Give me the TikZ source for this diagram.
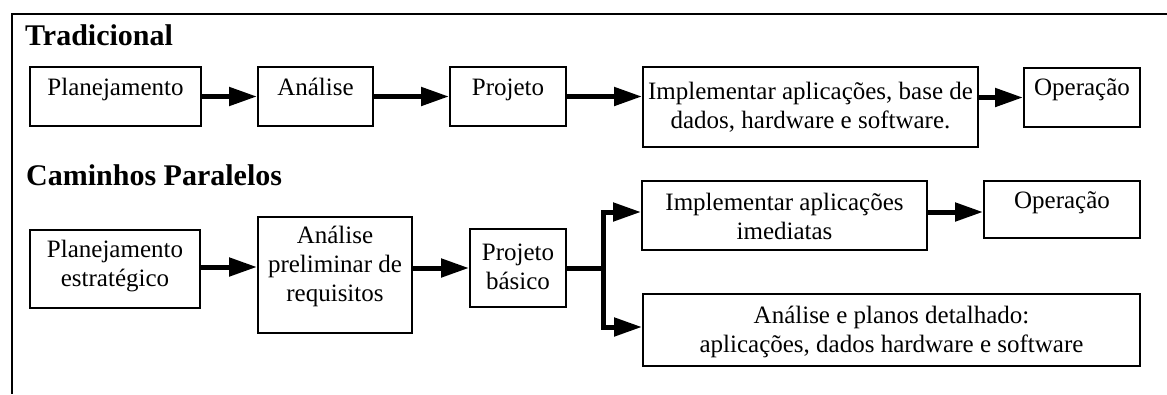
\documentclass[tikz,border=0pt]{standalone}
\usepackage{fontspec}
\setmainfont{Liberation Serif}
\usetikzlibrary{arrows.meta}
\tikzset{
  box/.style={draw, line width=2pt, rectangle, inner sep=0pt},
  txt/.style={inner sep=0pt, align=center, font=\fontsize{25}{29}\selectfont},
  ttl/.style={inner sep=0pt, anchor=base west, font=\fontsize{30}{34}\selectfont\bfseries},
  conn/.style={line width=5pt},
  arr/.style={line width=5pt, -{Triangle[length=28pt,width=18pt]}},
  frame/.style={line width=2pt}
}
\begin{document}
\begin{tikzpicture}[x=1pt,y=-1pt]
\useasboundingbox (0,0) rectangle (1167,394);
\draw[frame] (1167,14) -- (12,14) -- (12,394);

% titles
\node[ttl] (title1) at (25,45) {Tradicional};
\node[ttl] (title2) at (26,185) {Caminhos Paralelos};

% Tradicional row
\node[box, minimum width=171pt, minimum height=59pt] (T1) at (115.5,96.5) {};
\node[box, minimum width=115pt, minimum height=59pt] (T2) at (315.5,96.5) {};
\node[box, minimum width=116pt, minimum height=59pt] (T3) at (508,96.5) {};
\node[box, minimum width=335pt, minimum height=80pt] (T4) at (810.5,107) {};
\node[box, minimum width=116pt, minimum height=59pt] (T5) at (1082,97.5) {};

\node[txt, anchor=base] (tT1) at (115.5,95) {Planejamento};
\node[txt, anchor=base] (tT2) at (315.5,95) {Análise};
\node[txt, anchor=base] (tT3) at (508,95) {Projeto};
\node[txt] (tT4) at (810.5,107) {Implementar aplicações, base de\\dados, hardware e software.};
\node[txt, anchor=base] (tT5) at (1082,95) {Operação};

\draw[arr] (T1.east) -- (T2.west);
\draw[arr] (T2.east) -- (T3.west);
\draw[arr] (T3.east) -- (T3.east -| T4.west);
\draw[arr] (T5.west -| T4.east) -- (T5.west);

% Caminhos Paralelos row
\node[box, minimum width=170pt, minimum height=78pt] (P1) at (115,269) {};
\node[box, minimum width=154pt, minimum height=116pt] (P2) at (335,275) {};
\node[box, minimum width=96pt, minimum height=78pt] (P3) at (518,268) {};
\node[box, minimum width=285pt, minimum height=69pt] (P4) at (784.5,215.5) {};
\node[box, minimum width=156pt, minimum height=57pt] (P5) at (1062,209.5) {};
\node[box, minimum width=497pt, minimum height=72pt] (P6) at (891.5,330) {};

\node[txt] (tP1) at (115,266.5) {Planejamento\\estratégico};
\node[txt] (tP2) at (335,266) {Análise\\preliminar de\\requisitos};
\node[txt] (tP3) at (518,266.5) {Projeto\\básico};
\node[txt] (tP4) at (784.5,216) {Implementar aplicações\\imediatas};
\node[txt, anchor=base] (tP5) at (1062,208) {Operação};
\node[txt] (tP6) at (891.5,331.5) {Análise e planos detalhado:\\aplicações, dados hardware e software};

\coordinate (br) at (603,268);
\draw[arr] (P1.east) ++(0,-2) -- (P2.west |- 0,267);
\draw[arr] (P3.west -| P2.east) -- (P3.west);
\draw[conn] (P3.east) -- (br);
\draw[arr] (br) |- ([yshift=3.5pt]P4.west);
\draw[arr] (br) |- ([yshift=3pt]P6.west);
\draw[arr] ([yshift=3.5pt]P4.east) -- ([yshift=3.5pt]P4.east -| P5.west);
\end{tikzpicture}
\end{document}
